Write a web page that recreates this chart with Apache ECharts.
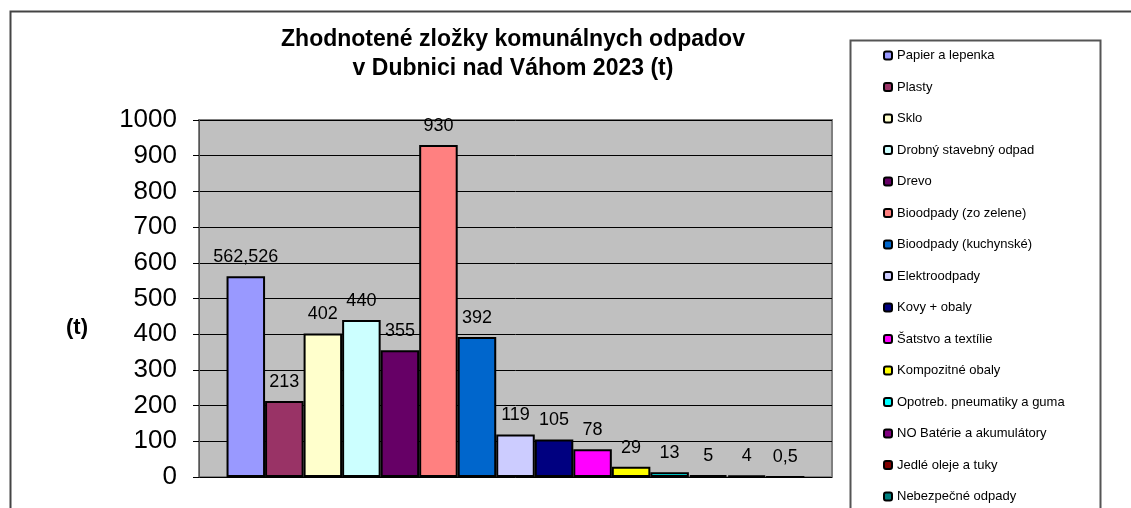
<!DOCTYPE html>
<html>
<head>
<meta charset="utf-8">
<script src="https://cdn.jsdelivr.net/npm/echarts@6/dist/echarts.min.js"></script>
<style>
  html, body { margin: 0; padding: 0; background: #fff; }
  #chart { width: 1131px; height: 508px; }
</style>
</head>
<body>
<div id="chart"></div>
<script>
// zložky odpadu (legenda)
const names = [
    'Papier a lepenka',
    'Plasty',
    'Sklo',
    'Drobný stavebný odpad',
    'Drevo',
    'Bioodpady (zo zelene)',
    'Bioodpady (kuchynské)',
    'Elektroodpady',
    'Kovy + obaly',
    'Šatstvo a textílie',
    'Kompozitné obaly',
    'Opotreb. pneumatiky a guma',
    'NO Batérie a akumulátory',
    'Jedlé oleje a tuky',
    'Nebezpečné odpady'
]
// množstvo v tonách
const values = [562.526, 213, 402, 440, 355, 930, 392, 119, 105, 78, 29, 13, 5, 4, 0.5]
const colors = [
    '#9999FF', '#993366', '#FFFFCC', '#CCFFFF', '#660066',
    '#FF8080', '#0066CC', '#CCCCFF', '#000080', '#FF00FF',
    '#FFFF00', '#00FFFF', '#800080', '#800000', '#008080'
]
const yTicks = { min: 0, max: 1000, interval: 100 }

const font = '"Liberation Sans", Arial, sans-serif'
const chart = echarts.init(document.getElementById('chart'))

const series = names.map((name, i) => ({
    name: name,
    type: 'bar',
    data: [values[i]],
    barGap: '0%',
    barCategoryGap: '8.7%',
    itemStyle: {
        color: colors[i],
        borderColor: '#000',
        borderWidth: 2
    },
    label: {
        show: true,
        position: 'top',
        distance: 10,
        color: '#000',
        fontFamily: font,
        fontSize: 18,
        formatter (p) {
            return String(p.value).replace('.', ',')
        }
    },
    emphasis: { disabled: true }
}))

const option = {
    animation: false,
    textStyle: { fontFamily: font },
    title: {
        text: 'Zhodnotené zložky komunálnych odpadov\nv Dubnici nad Váhom 2023 (t)',
        left: 508,
        top: 20,
        textAlign: 'center',
        textStyle: {
            fontFamily: font,
            fontSize: 23,
            fontWeight: 'bold',
            color: '#000',
            lineHeight: 29
        }
    },
    legend: {
        orient: 'vertical',
        left: 883,
        top: 49,
        height: 460,
        padding: 0,
        itemWidth: 8,
        itemHeight: 8,
        itemGap: 18.5,
        selectedMode: false,
        data: names,
        textStyle: {
            fontFamily: font,
            fontSize: 13,
            color: '#000'
        }
    },
    grid: {
        left: 199,
        top: 120,
        width: 633,
        height: 357,
        show: true,
        backgroundColor: '#C0C0C0',
        borderColor: '#808080',
        borderWidth: 2
    },
    xAxis: {
        type: 'category',
        data: [''],
        axisLine: { show: false },
        axisTick: { show: false },
        axisLabel: { show: false }
    },
    yAxis: {
        type: 'value',
        min: yTicks.min,
        max: yTicks.max,
        interval: yTicks.interval,
        axisLine: { show: true, lineStyle: { color: '#555', width: 1 } },
        axisTick: { show: true, length: 6, lineStyle: { color: '#000' } },
        axisLabel: {
            margin: 22,
            color: '#000',
            fontFamily: font,
            fontSize: 26,
            formatter (v) {
                return String(v)
            }
        },
        splitLine: { show: true, lineStyle: { color: '#000', width: 1 } }
    },
    graphic: [
        {
            type: 'rect',
            z: 100,
            shape: { x: 10.5, y: 11.5, width: 1300, height: 700 },
            style: { fill: 'none', stroke: '#444', lineWidth: 2 }
        },
        {
            type: 'rect',
            z: 100,
            shape: { x: 850.5, y: 40.5, width: 250, height: 700 },
            style: { fill: 'none', stroke: '#555', lineWidth: 2 }
        },
        {
            type: 'text',
            left: 66,
            top: 317,
            style: {
                text: '(t)',
                fontFamily: font,
                fontSize: 22,
                fontWeight: 'bold',
                fill: '#000'
            }
        }
    ],
    series: series
}

chart.setOption(option)
window.addEventListener('resize', () => chart.resize())
</script>
</body>
</html>
